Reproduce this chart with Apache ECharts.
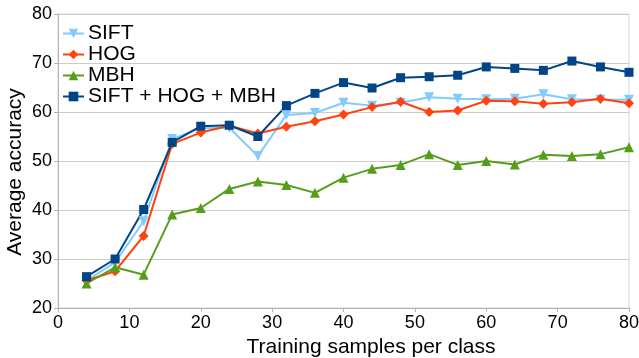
<!DOCTYPE html>
<html>
<head>
<meta charset="utf-8">
<script src="https://cdn.jsdelivr.net/npm/echarts@6/dist/echarts.min.js"></script>
<style>
  html, body { margin: 0; padding: 0; background: #fff; }
  #main { width: 639px; height: 358px; }
</style>
</head>
<body>
<div id="main"></div>
<script>
const samples = [4, 8, 12, 16, 20, 24, 28, 32, 36, 40, 44, 48, 52, 56, 60, 64, 68, 72, 76, 80];
const sift = [25.6, 29.3, 37.7, 54.5, 56.7, 56.8, 51.0, 59.4, 59.8, 61.9, 61.3, 61.9, 63.0, 62.7, 62.6, 62.7, 63.6, 62.6, 62.5, 62.5];
const hog = [25.6, 27.5, 34.7, 53.5, 55.8, 57.2, 55.6, 57.0, 58.1, 59.5, 61.0, 62.1, 60.0, 60.3, 62.3, 62.2, 61.7, 62.0, 62.7, 61.8];
const mbh = [25.0, 28.3, 26.8, 39.1, 40.4, 44.3, 45.8, 45.1, 43.5, 46.6, 48.4, 49.2, 51.4, 49.2, 50.0, 49.3, 51.3, 51.0, 51.4, 52.8];
const combined = [26.4, 30.0, 40.1, 53.8, 57.1, 57.3, 55.0, 61.3, 63.8, 66.0, 64.9, 67.0, 67.2, 67.5, 69.2, 68.9, 68.5, 70.4, 69.2, 68.1];

const fontFamily = "Liberation Sans, Arial, sans-serif";

function pairs(values) {
  return samples.map((x, i) => [x, values[i]]);
}

function lineSeries(name, values, color, symbol, size, rotate) {
  return {
    name: name,
    type: "line",
    data: pairs(values),
    symbol: symbol,
    symbolSize: size,
    symbolRotate: rotate || 0,
    showAllSymbol: true,
    lineStyle: { color: color, width: 2 },
    itemStyle: { color: color },
    emphasis: { disabled: true },
  };
}

const chart = echarts.init(document.getElementById("main"));
chart.setOption({
  animation: false,
  textStyle: { fontFamily: fontFamily },
  grid: {
    left: 58, right: 10, top: 14, bottom: 50,
    outerBoundsMode: "none",
    show: true, borderColor: "#d4d4d4", borderWidth: 1,
  },
  legend: {
    orient: "vertical",
    left: 62,
    top: 23,
    padding: 0,
    itemGap: 0,
    itemWidth: 21,
    itemHeight: 12,
    textStyle: { fontSize: 21, color: "#000", fontFamily: fontFamily, padding: [0, 0, 0, -1] },
  },
  xAxis: {
    type: "value",
    min: 0, max: 80, interval: 10,
    name: "Training samples per class",
    nameLocation: "middle",
    nameGap: 24,
    nameTextStyle: { fontSize: 21, color: "#000", padding: [0, 0, 0, 55] },
    axisLine: { lineStyle: { color: "#b3b3b3" } },
    axisTick: { show: true, length: 4, lineStyle: { color: "#b3b3b3" } },
    axisLabel: { fontSize: 18, color: "#000", margin: 6 },
    splitLine: { show: false },
  },
  yAxis: {
    type: "value",
    min: 20, max: 80, interval: 10,
    name: "Average accuracy",
    nameLocation: "middle",
    nameGap: 32,
    nameMoveOverlap: false,
    nameTextStyle: { fontSize: 21, color: "#000", padding: [0, 22, 0, 0] },
    axisLine: { show: true, lineStyle: { color: "#b3b3b3" } },
    axisTick: { show: true, length: 4, lineStyle: { color: "#b3b3b3" } },
    axisLabel: { fontSize: 18, color: "#000", margin: 6 },
    splitLine: { lineStyle: { color: "#cccccc" } },
  },
  series: [
    lineSeries("SIFT", sift, "#83caff", "triangle", 10, 180),
    lineSeries("HOG", hog, "#ff420e", "diamond", 10),
    lineSeries("MBH", mbh, "#579d1c", "triangle", 10),
    lineSeries("SIFT + HOG + MBH", combined, "#004586", "rect", 9),
  ],
});
</script>
</body>
</html>
